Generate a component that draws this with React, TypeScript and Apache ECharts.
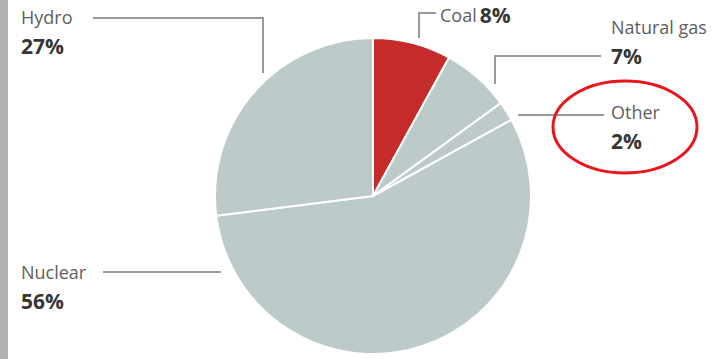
import React, { useEffect, useRef } from "react";
import * as echarts from "echarts";

const categories = ["Coal", "Natural gas", "Other", "Nuclear", "Hydro"];
const shares = [8, 7, 2, 56, 27];
const sliceColors = ["#c62b2c", "#bccbca", "#bccbca", "#bccbca", "#bccbca"];

// label anchor positions (layout only)
const labelPos: Record<string, { x: number; y: number; pts: number[][] }> = {
  Coal: { x: 440, y: 0, pts: [[436, 13], [419, 13], [419, 38]] },
  "Natural gas": { x: 611, y: 12, pts: [[601, 56], [495, 56], [495, 84]] },
  Other: { x: 611, y: 97, pts: [[604, 115], [560, 115], [518, 115]] },
  Nuclear: { x: 21, y: 257, pts: [[103, 272], [160, 272], [221, 272]] },
  Hydro: { x: 21, y: 2, pts: [[93, 18], [263, 18], [263, 73]] },
};

export default function App() {
  const ref = useRef<HTMLDivElement>(null);
  useEffect(() => {
    if (!ref.current) return;
    const chart = echarts.init(ref.current, undefined, { renderer: "svg" });
    const font = "'Open Sans', sans-serif";
    chart.setOption({
      animation: false,
      backgroundColor: "#ffffff",
      graphic: [
        { type: "rect", shape: { x: 0, y: 0, width: 8, height: 359 }, style: { fill: "#b1b1b1" } },
        {
          type: "ellipse",
          shape: { cx: 625, cy: 127, rx: 72, ry: 46 },
          style: { fill: "none", stroke: "#e8171c", lineWidth: 3 },
          z: 10,
        },
      ],
      series: [
        {
          type: "pie",
          center: [373, 196],
          radius: 158,
          startAngle: 90,
          clockwise: true,
          silent: true,
          itemStyle: { borderColor: "#ffffff", borderWidth: 2 },
          data: categories.map((c, i) => ({
            name: c,
            value: shares[i],
            itemStyle: { color: sliceColors[i] },
          })),
          label: {
            show: true,
            position: "outside",
            fontFamily: font,
            formatter: (p: any) =>
              p.name === "Coal"
                ? `{n|${p.name}} {v|${p.value}%}`
                : `{n|${p.name}}\n{v|${p.value}%}`,
            rich: {
              n: { fontFamily: font, fontSize: 18, color: "#5e5e5e", lineHeight: 29 },
              v: { fontFamily: font, fontSize: 21, fontWeight: "bold", color: "#363636", lineHeight: 29 },
            },
          },
          labelLine: {
            show: true,
            lineStyle: { color: "#7a7a7a", width: 1.5 },
          },
          labelLayout: (params: any) => {
            const name = categories[params.dataIndex];
            const pos = labelPos[name];
            return {
              x: pos.x,
              y: pos.y,
              align: "left",
              verticalAlign: "top",
              labelLinePoints: pos.pts,
            };
          },
        },
      ],
    });
    return () => chart.dispose();
  }, []);
  return (
    <div
      ref={ref}
      style={{ position: "fixed", left: 0, top: 0, width: 716, height: 359, background: "#fff" }}
    />
  );
}
